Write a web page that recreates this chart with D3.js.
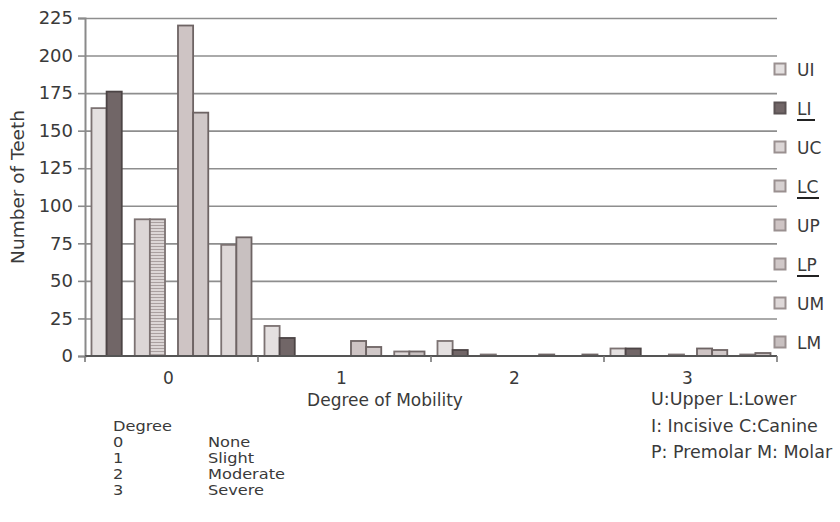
<!DOCTYPE html>
<html>
<head>
<meta charset="utf-8">
<script src="https://cdn.jsdelivr.net/npm/d3@7"></script>
<style>
  html, body { margin: 0; padding: 0; background: #fff; }
  svg { display: block; }
  text { font-family: "DejaVu Sans", "Liberation Sans", sans-serif; fill: #3a3a3a; }
</style>
</head>
<body>
<svg id="chart" width="840" height="522"></svg>
<script>
// Degree of mobility groups, tooth types within a group, upper/lower pair
const degrees = ["0", "1", "2", "3"];
const toothTypes = ["I", "C", "P", "M"];
const jaws = ["U", "L"];
const seriesNames = ["UI", "LI", "UC", "LC", "UP", "LP", "UM", "LM"];

// Number of teeth per degree (0..3) for each series
const UI = [165, 20, 10, 5];
const LI = [176, 12, 4, 5];
const UC = [91, 0, 1, 0];
const LC = [91, 0, 0, 1];
const UP = [220, 10, 0, 5];
const LP = [162, 6, 1, 4];
const UM = [74, 3, 0, 1];
const LM = [79, 3, 1, 2];

const yTicks = [0, 25, 50, 75, 100, 125, 150, 175, 200, 225];
const underlinedNames = ["LI", "LC", "LP"];
const degreeRows = [["0", "None"], ["1", "Slight"], ["2", "Moderate"], ["3", "Severe"]];
const keyLines = ["U:Upper L:Lower", "I: Incisive C:Canine", "P: Premolar M: Molar"];

const seriesValues = { UI, LI, UC, LC, UP, LP, UM, LM };

const fills = {
  UI: "#e4e0e0", LI: "#716667", UC: "#dcd6d6", LC: "url(#hlines)",
  UP: "#cec4c4", LP: "#d0c8c8", UM: "#ded8d8", LM: "#c8c0c0"
};
const strokes = {
  UI: "#7c7272", LI: "#4c4445", UC: "#7c7272", LC: "#7c7272",
  UP: "#6e6464", LP: "#6e6464", UM: "#7c7272", LM: "#6e6464"
};

const svg = d3.select("#chart");
const plotLeft = 85, plotRight = 777, plotTop = 18, plotBottom = 356;

// Striped fill for LC
const defs = svg.append("defs");
const pat = defs.append("pattern").attr("id", "hlines")
  .attr("patternUnits", "userSpaceOnUse").attr("width", 6).attr("height", 3);
pat.append("rect").attr("width", 6).attr("height", 3).attr("fill", "#dcd6d6");
pat.append("rect").attr("width", 6).attr("height", 1).attr("fill", "#aaa0a0");

const x0 = d3.scaleBand().domain(degrees).range([plotLeft, plotRight]);
const x1 = d3.scaleBand().domain(toothTypes).range([0, x0.bandwidth()])
  .paddingInner(0.3).paddingOuter(0.15);
const x2 = d3.scaleBand().domain(jaws).range([0, x1.bandwidth()]);
const y = d3.scaleLinear().domain([0, 225]).range([plotBottom, plotTop]);

// Horizontal gridlines
svg.append("g")
  .attr("transform", `translate(${plotLeft},0)`)
  .call(d3.axisRight(y).tickValues(yTicks.slice(1)).tickSize(plotRight - plotLeft).tickFormat(""))
  .call(g => g.select(".domain").remove())
  .call(g => g.selectAll(".tick line").attr("stroke", "#8e8e8e").attr("stroke-width", 1.6));

// Y axis
const yAxis = svg.append("g")
  .attr("transform", `translate(${plotLeft},0)`)
  .call(d3.axisLeft(y).tickValues(yTicks).tickSize(7).tickPadding(5));
yAxis.select(".domain").attr("stroke", "#8a8a8a").attr("stroke-width", 2);
yAxis.selectAll(".tick line").attr("stroke", "#8a8a8a").attr("stroke-width", 1.6);
yAxis.selectAll(".tick text").style("font-size", "18px").attr("fill", "#3a3a3a")
  .style("font-family", "DejaVu Sans");

// Bars
const barData = [];
degrees.forEach((deg, di) => {
  toothTypes.forEach(tt => {
    jaws.forEach(j => {
      const name = j + tt;
      barData.push({ deg, tt, j, name, value: seriesValues[name][di] });
    });
  });
});

svg.append("g").selectAll("rect").data(barData).join("rect")
  .attr("x", d => x0(d.deg) + x1(d.tt) + x2(d.j))
  .attr("y", d => y(d.value))
  .attr("width", x2.bandwidth())
  .attr("height", d => y(0) - y(d.value))
  .attr("fill", d => fills[d.name])
  .attr("stroke", d => strokes[d.name])
  .attr("stroke-width", 1.8);

// X axis baseline with boundary ticks
const xg = svg.append("g");
xg.append("line").attr("x1", plotLeft).attr("x2", plotRight).attr("y1", plotBottom).attr("y2", plotBottom)
  .attr("stroke", "#555").attr("stroke-width", 2.2);
const bounds = degrees.map(d => x0(d)).concat([x0(degrees[degrees.length - 1]) + x0.bandwidth()]);
xg.selectAll(".bt").data(bounds).join("line")
  .attr("x1", d => d).attr("x2", d => d).attr("y1", plotBottom).attr("y2", plotBottom + 6)
  .attr("stroke", "#777").attr("stroke-width", 1.6);
xg.selectAll(".cl").data(degrees).join("text")
  .attr("x", d => x0(d) + x0.bandwidth() / 2 - 3).attr("y", 384)
  .attr("text-anchor", "middle").style("font-size", "17px").text(d => d);

// Axis titles
svg.append("text").attr("x", 385).attr("y", 406).attr("text-anchor", "middle")
  .style("font-size", "17px").text("Degree of Mobility");
svg.append("text").attr("transform", "translate(24,187) rotate(-90)")
  .attr("text-anchor", "middle").style("font-size", "18.5px").text("Number of Teeth");

// Legend
const legend = svg.append("g").selectAll("g").data(seriesNames).join("g")
  .attr("transform", (d, i) => `translate(774,${69 + i * 39})`);
legend.append("rect").attr("x", 0.5).attr("y", -5.5).attr("width", 11).attr("height", 11)
  .attr("fill", d => d === "LC" ? "#d6d0d0" : fills[d])
  .attr("stroke", d => d === "LI" ? "#5a5253" : "#9a9090").attr("stroke-width", 2);
legend.append("text").attr("x", 23).attr("y", 6.5).style("font-size", "17px").text(d => d);
legend.filter(d => underlinedNames.includes(d)).append("line")
  .attr("x1", 23).attr("x2", d => 23 + (d === "LI" ? 18 : 22)).attr("y1", 12).attr("y2", 12)
  .attr("stroke", "#222").attr("stroke-width", 2);

// Degree key, bottom left (wide glyphs, compact rows)
const keyFont = "13.5px", keyStretch = 1.2;
svg.append("text").attr("transform", `translate(113,431) scale(${keyStretch},1)`)
  .style("font-size", keyFont).text("Degree");
const rows = svg.append("g").selectAll("g").data(degreeRows).join("g")
  .attr("transform", (d, i) => `translate(0,${447 + i * 16})`);
rows.append("text").attr("transform", `translate(113,0) scale(${keyStretch},1)`)
  .style("font-size", keyFont).text(d => d[0]);
rows.append("text").attr("transform", `translate(208,0) scale(${keyStretch},1)`)
  .style("font-size", keyFont).text(d => d[1]);

// Abbreviation key, bottom right
svg.append("g").selectAll("text").data(keyLines).join("text")
  .attr("x", 651).attr("y", (d, i) => 405 + i * 26.5)
  .style("font-size", "17.5px").text(d => d);
</script>
</body>
</html>
